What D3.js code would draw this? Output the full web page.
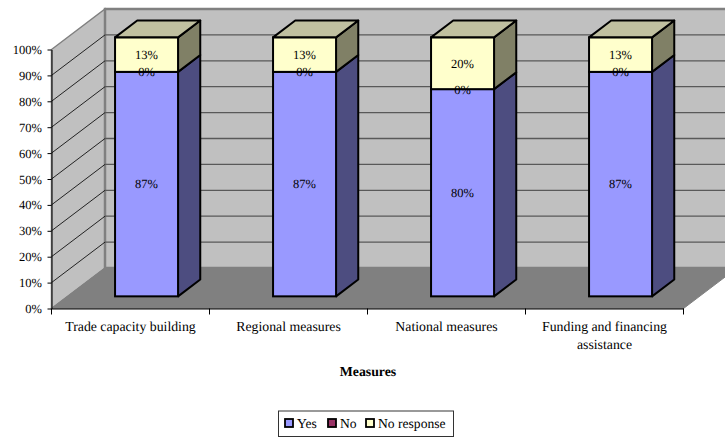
<!DOCTYPE html>
<html><head><meta charset="utf-8">
<script src="https://cdn.jsdelivr.net/npm/d3@7/dist/d3.min.js"></script>
<style>
html,body{margin:0;padding:0;background:#fff;overflow:hidden}
text{font-family:"Liberation Serif","Times New Roman",serif;fill:#000;text-rendering:geometricPrecision}
</style></head><body><svg id="c" width="725" height="437"></svg>
<script>
const categories = ["Trade capacity building","Regional measures","National measures","Funding and financing assistance"];
const seriesNames = ["Yes","No","No response"];
const yes = [86.67,86.67,80,86.67];
const no = [0,0,0,0];
const noResponse = [13.33,13.33,20,13.33];
const yTicks = [0,10,20,30,40,50,60,70,80,90,100];

const frontColors = ["#9999ff","#993366","#ffffcc"];
const sideColors = ["#4d4d80","#4d1a33","#808066"];
const topColor = "#c0c0a0";

const svg = d3.select("#c");
const x = d3.scaleBand().domain(categories).range([51.5,683.5]).paddingInner(0).paddingOuter(0);
const y = d3.scaleLinear().domain([0,100]).range([308.5,49.5]);
// oblique depth of the 3-D box
const wallDx = 53.5, wallDy = -40.5;
const barFront = 0.3, barBack = 0.715;
const barW = 63;
const shift = f => [wallDx*f, wallDy*f];
const poly = pts => pts.map(p=>p.join(",")).join(" ");

// walls and floor
const x0 = x.range()[0], x1 = x.range()[1], y0 = y(0), yT = y(100);
svg.append("polygon").attr("points",poly([[x0,y0],[x0+wallDx,y0+wallDy],[x0+wallDx,yT+wallDy],[x0,yT]]))
  .attr("fill","#c0c0c0").attr("stroke","#808080").attr("stroke-width",1.5);
svg.append("polygon").attr("points",poly([[x0+wallDx,y0+wallDy],[x1+wallDx,y0+wallDy],[x1+wallDx,yT+wallDy],[x0+wallDx,yT+wallDy]]))
  .attr("fill","#c0c0c0").attr("stroke","#808080").attr("stroke-width",2.5);
svg.append("polygon").attr("points",poly([[x0,y0],[x1,y0],[x1+wallDx,y0+wallDy],[x0+wallDx,y0+wallDy]]))
  .attr("fill","#808080").attr("stroke","#808080");

// gridlines
const grid = yTicks.filter(v=>v>0&&v<100);
svg.append("g").selectAll("line").data(grid).join("line")
  .attr("x1",x0+wallDx).attr("x2",x1+wallDx)
  .attr("y1",v=>y(v)+wallDy).attr("y2",v=>y(v)+wallDy)
  .attr("stroke","#595959").attr("stroke-width",1.3);
svg.append("g").selectAll("line").data(grid).join("line")
  .attr("x1",x0).attr("x2",x0+wallDx)
  .attr("y1",v=>y(v)).attr("y2",v=>y(v)+wallDy)
  .attr("stroke","#111").attr("stroke-width",0.9);

// bars
const [fx,fy] = shift(barFront), [bx,by] = shift(barBack);
const dDx = bx-fx, dDy = by-fy;
const stackVals = categories.map((c,i)=>[yes[i],no[i],noResponse[i]]);
categories.forEach((c,i)=>{
  const g = svg.append("g");
  const L = x(c)+x.bandwidth()/2-barW/2+fx, R = L+barW;
  let acc = 0;
  const total = d3.sum(stackVals[i]);
  stackVals[i].forEach((v,s)=>{
    const a = y(acc/total*100)+fy, b = y((acc+v)/total*100)+fy;
    acc += v;
    if(v===0) return;
    g.append("polygon").attr("points",poly([[R,a],[R+dDx,a+dDy],[R+dDx,b+dDy],[R,b]]))
      .attr("fill",sideColors[s]).attr("stroke","#000").attr("stroke-width",2).attr("stroke-linejoin","round");
    g.append("rect").attr("x",L).attr("y",b).attr("width",barW).attr("height",a-b)
      .attr("fill",frontColors[s]).attr("stroke","#000").attr("stroke-width",2);
  });
  const t = y(100)+fy;
  g.append("polygon").attr("points",poly([[L,t],[R,t],[R+dDx,t+dDy],[L+dDx,t+dDy]]))
    .attr("fill",topColor).attr("stroke","#000").attr("stroke-width",2).attr("stroke-linejoin","round");
  // labels
  acc = 0;
  stackVals[i].forEach((v,s)=>{
    const mid = y((acc+v/2)/total*100)+fy;
    acc += v;
    g.append("text").attr("x",(L+R)/2).attr("y",mid).attr("dy","0.35em")
      .attr("text-anchor","middle").attr("font-size",12.5).text(Math.round(v)+"%");
  });
});

// axes
const yAxis = d3.axisLeft(y).tickValues(yTicks).tickFormat(d=>d+"%").tickSize(4).tickSizeOuter(0);
const gy = svg.append("g").attr("transform",`translate(${x0},0)`).call(yAxis);
gy.selectAll("text").attr("font-size",12.5).attr("font-family",null).attr("x",-9.5);
gy.selectAll("line,path").attr("stroke","#000").attr("stroke-width",1);

const xAxis = d3.axisBottom(x).tickValues([]).tickSizeOuter(0);
const gx = svg.append("g").attr("transform",`translate(0,${y0})`).call(xAxis);
gx.selectAll("path").attr("stroke","#000");
gx.selectAll(".edge").data([...categories.map(c=>x(c)),x1]).join("line").attr("class","edge")
  .attr("x1",d=>d).attr("x2",d=>d).attr("y1",0).attr("y2",6).attr("stroke","#000");

const catLines = c => c==="Funding and financing assistance" ? ["Funding and financing","assistance"] : [c];
categories.forEach(c=>{
  catLines(c).forEach((ln,k)=>{
    svg.append("text").attr("x",x(c)+x.bandwidth()/2).attr("y",331+k*18)
      .attr("text-anchor","middle").attr("font-size",13.8).text(ln);
  });
});

svg.append("text").attr("x",368).attr("y",376).attr("text-anchor","middle")
  .attr("font-size",13.8).attr("font-weight","bold").text("Measures");

// legend
const lg = svg.append("g");
lg.append("rect").attr("x",278.5).attr("y",411).attr("width",175).attr("height",25.5)
  .attr("fill","#fff").attr("stroke","#000").attr("stroke-opacity",0.8);
const legendX = [285,328,366];
seriesNames.forEach((n,i)=>{
  lg.append("rect").attr("x",legendX[i]).attr("y",419).attr("width",8).attr("height",8)
    .attr("fill",frontColors[i]).attr("stroke","#000").attr("stroke-width",1.8);
  lg.append("text").attr("x",legendX[i]+12).attr("y",427.5).attr("font-size",13.6).text(n);
});
</script></body></html>
